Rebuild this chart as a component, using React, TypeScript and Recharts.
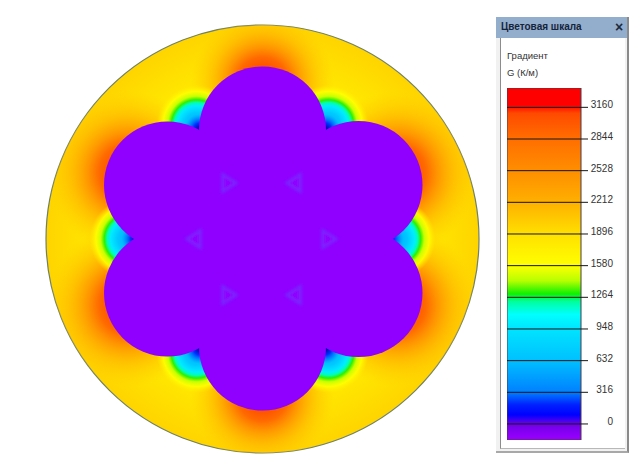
import { Bar, BarChart, Scatter, ScatterChart, XAxis, YAxis } from "recharts";

// Cross-section geometry, in units measured from the disk centre (y up)
const diskPoint = [{ x: 0, y: 0, rx: 216.5, ry: 214 }];
const lobePoints = [
  { x: 0, y: 109, r: 63.5 },
  { x: 96, y: 54, r: 64 },
  { x: 96, y: -54, r: 64 },
  { x: 0, y: -108, r: 63.5 },
  { x: -95, y: -54, r: 63.5 },
  { x: -95, y: 54, r: 63.5 },
];
const hubPoint = [{ x: 0, y: 0, r: 80 }];
const glowPoints = [
  { x: 0, y: 156, r: 72 },
  { x: 134, y: 66, r: 82 },
  { x: 134, y: -66, r: 82 },
  { x: 0, y: -156, r: 72 },
  { x: -134, y: -66, r: 82 },
  { x: -134, y: 66, r: 82 },
];
const pocketPoints = [
  { x: 66, y: 114, r: 40 },
  { x: 133, y: 0, r: 40 },
  { x: 66, y: -114, r: 40 },
  { x: -66, y: -114, r: 40 },
  { x: -133, y: 0, r: 40 },
  { x: -66, y: 114, r: 40 },
];
const cuspPoints = [
  { x: 63, y: 110, r: 15 },
  { x: 126, y: 0, r: 15 },
  { x: 63, y: -110, r: 15 },
  { x: -63, y: -110, r: 15 },
  { x: -126, y: 0, r: 15 },
  { x: -63, y: 110, r: 15 },
];
const trianglePoints = [
  { x: -34, y: 56, dir: 1 },
  { x: 32, y: 56, dir: -1 },
  { x: -68, y: 0, dir: -1 },
  { x: 66, y: 0, dir: 1 },
  { x: -34, y: -56, dir: 1 },
  { x: 32, y: -56, dir: -1 },
];

// Colour scale
const scaleTicks = [0, 316, 632, 948, 1264, 1580, 1896, 2212, 2528, 2844, 3160];
const scaleBar = [{ name: "G", range: [-160, 3353] }];
const scaleValues = [3353, 3180, 3100, 2844, 2528, 2212, 1896, 1580, 1430, 1300, 1220, 1090, 948, 632, 316, 190, 90, 0, -160];
const scaleColors = [
  "#ff0000", "#ff0000", "#ff4a00", "#ff6e00", "#ff8e00", "#ffb000", "#ffe000", "#ffff00", "#b8ff00",
  "#10f000", "#00ffa0", "#00ffff", "#00e4ff", "#00c0ff", "#0080ff", "#0020ff", "#0000ff", "#7000e8", "#9a00ff",
];

const PURPLE = "#8f00ff";
const CENTRE_X = 262.5;
const CENTRE_Y = 239;

const Disk = ({ cx, cy, payload }: any) => (
  <ellipse cx={cx} cy={cy} rx={payload.rx} ry={payload.ry} fill="url(#diskFill)" stroke="#6f8068" strokeWidth={1.2} />
);
const Glow = ({ cx, cy, payload }: any) => (
  <circle cx={cx} cy={cy} r={payload.r} fill="url(#glowFill)" clipPath="url(#diskClip)" />
);
const Pocket = ({ cx, cy, payload }: any) => (
  <circle cx={cx} cy={cy} r={payload.r} fill="url(#pocketFill)" clipPath="url(#diskClip)" />
);
const Cusp = ({ cx, cy, payload }: any) => <circle cx={cx} cy={cy} r={payload.r} fill="url(#cuspFill)" />;
const Lobe = ({ cx, cy, payload }: any) => <circle cx={cx} cy={cy} r={payload.r} fill={PURPLE} />;
const Triangle = ({ cx, cy, payload }: any) => {
  const d = payload.dir;
  return (
    <polygon
      points={`${cx - 6 * d},${cy - 9} ${cx + 8 * d},${cy} ${cx - 6 * d},${cy + 9}`}
      fill={PURPLE}
      stroke="#6a38ff"
      strokeOpacity={0.8}
      strokeWidth={2}
      filter="url(#soft)"
    />
  );
};

const ScaleTick = ({ x, y, payload }: any) => (
  <g>
    <line x1={x - 82} x2={x - 1} y1={y} y2={y} stroke="#151515" strokeWidth={1} />
    <text x={x + 24} y={y + 1} textAnchor="end" fontSize={10} fill="#333" fontFamily="Liberation Sans">
      {payload.value}
    </text>
  </g>
);

export default function App() {
  return (
    <div style={{ position: "absolute", left: 0, top: 0, width: 641, height: 470, background: "#fff", overflow: "hidden", fontFamily: "Liberation Sans" }}>
      <div style={{ position: "absolute", left: 0, top: 0 }}>
        <ScatterChart width={641} height={470} margin={{ top: 0, right: 0, bottom: 0, left: 0 }}>
          <defs>
            <radialGradient id="diskFill">
              <stop offset="0%" stopColor="#ffe600" />
              <stop offset="74%" stopColor="#ffea00" />
              <stop offset="100%" stopColor="#ffd400" />
            </radialGradient>
            <radialGradient id="glowFill">
              <stop offset="12%" stopColor="#ff4000" />
              <stop offset="36%" stopColor="#ff6a00" />
              <stop offset="50%" stopColor="#ff8e00" stopOpacity={0.9} />
              <stop offset="70%" stopColor="#ffae00" stopOpacity={0.6} />
              <stop offset="88%" stopColor="#ffc400" stopOpacity={0.3} />
              <stop offset="100%" stopColor="#ffd000" stopOpacity={0} />
            </radialGradient>
            <radialGradient id="pocketFill">
              <stop offset="0%" stopColor="#00a8ff" />
              <stop offset="30%" stopColor="#00c8ff" />
              <stop offset="48%" stopColor="#00ecff" />
              <stop offset="56%" stopColor="#00ffb0" />
              <stop offset="63%" stopColor="#30f000" />
              <stop offset="72%" stopColor="#c8ff00" />
              <stop offset="84%" stopColor="#ffff00" stopOpacity={0.9} />
              <stop offset="100%" stopColor="#ffee00" stopOpacity={0} />
            </radialGradient>
            <radialGradient id="cuspFill">
              <stop offset="0%" stopColor="#0000a0" />
              <stop offset="40%" stopColor="#0030ff" />
              <stop offset="75%" stopColor="#0080ff" stopOpacity={0.6} />
              <stop offset="100%" stopColor="#00a8ff" stopOpacity={0} />
            </radialGradient>
            <clipPath id="diskClip">
              <ellipse cx={CENTRE_X} cy={CENTRE_Y} rx={216.5} ry={214} />
            </clipPath>
            <filter id="soft" x="-30%" y="-30%" width="160%" height="160%">
              <feGaussianBlur stdDeviation={1.4} />
            </filter>
          </defs>
          <XAxis type="number" dataKey="x" hide domain={[-CENTRE_X, 641 - CENTRE_X]} />
          <YAxis type="number" dataKey="y" hide domain={[CENTRE_Y - 470, CENTRE_Y]} />
          <Scatter data={diskPoint} shape={Disk} isAnimationActive={false} />
          <Scatter data={glowPoints} shape={Glow} isAnimationActive={false} />
          <Scatter data={pocketPoints} shape={Pocket} isAnimationActive={false} />
          <Scatter data={cuspPoints} shape={Cusp} isAnimationActive={false} />
          <Scatter data={lobePoints} shape={Lobe} isAnimationActive={false} />
          <Scatter data={hubPoint} shape={Lobe} isAnimationActive={false} />
          <Scatter data={trianglePoints} shape={Triangle} isAnimationActive={false} />
        </ScatterChart>
      </div>

      {/* окно цветовой шкалы */}
      <div style={{ position: "absolute", left: 496, top: 17, width: 133, height: 436, background: "#f1f1f1", borderRight: "2px solid #8a8a8a", borderBottom: "2px solid #a8a8a8", boxSizing: "border-box" }} />
      <div style={{ position: "absolute", left: 500, top: 38, width: 125, height: 411, background: "#fff", borderLeft: "1px solid #8c8c8c", borderBottom: "1px solid #b8b8b8", boxSizing: "border-box" }} />
      <div style={{ position: "absolute", left: 496, top: 17, width: 131, height: 21, background: "#93aecd" }} />
      <div style={{ position: "absolute", left: 501, top: 21, fontSize: 10, fontWeight: 700, color: "#16243a", whiteSpace: "nowrap" }}>Цветовая шкала</div>
      <div style={{ position: "absolute", left: 615, top: 19, fontSize: 14, fontWeight: 700, color: "#1c2a3c", lineHeight: "16px" }}>×</div>
      <div style={{ position: "absolute", left: 507, top: 50, fontSize: 9.5, color: "#333", whiteSpace: "nowrap" }}>Градиент</div>
      <div style={{ position: "absolute", left: 507, top: 67, fontSize: 9.5, color: "#333", whiteSpace: "nowrap" }}>G (К/м)</div>

      <div style={{ position: "absolute", left: 507, top: 88 }}>
        <BarChart width={108} height={352} data={scaleBar} barCategoryGap={0} margin={{ top: 0, right: 0, bottom: 0, left: 0 }}>
          <defs>
            <linearGradient id="scaleFill" x1="0" y1="0" x2="0" y2="1">
              {scaleValues.map((v, i) => (
                <stop key={v} offset={(3353 - v) / 3513} stopColor={scaleColors[i]} />
              ))}
            </linearGradient>
          </defs>
          <XAxis dataKey="name" hide />
          <Bar dataKey="range" fill="url(#scaleFill)" stroke="#4a3a4a" strokeWidth={1} isAnimationActive={false} />
          <YAxis
            orientation="right"
            width={34}
            domain={[-160, 3353]}
            ticks={scaleTicks}
            interval={0}
            axisLine={false}
            tickLine={false}
            tick={ScaleTick}
          />
        </BarChart>
      </div>
    </div>
  );
}
